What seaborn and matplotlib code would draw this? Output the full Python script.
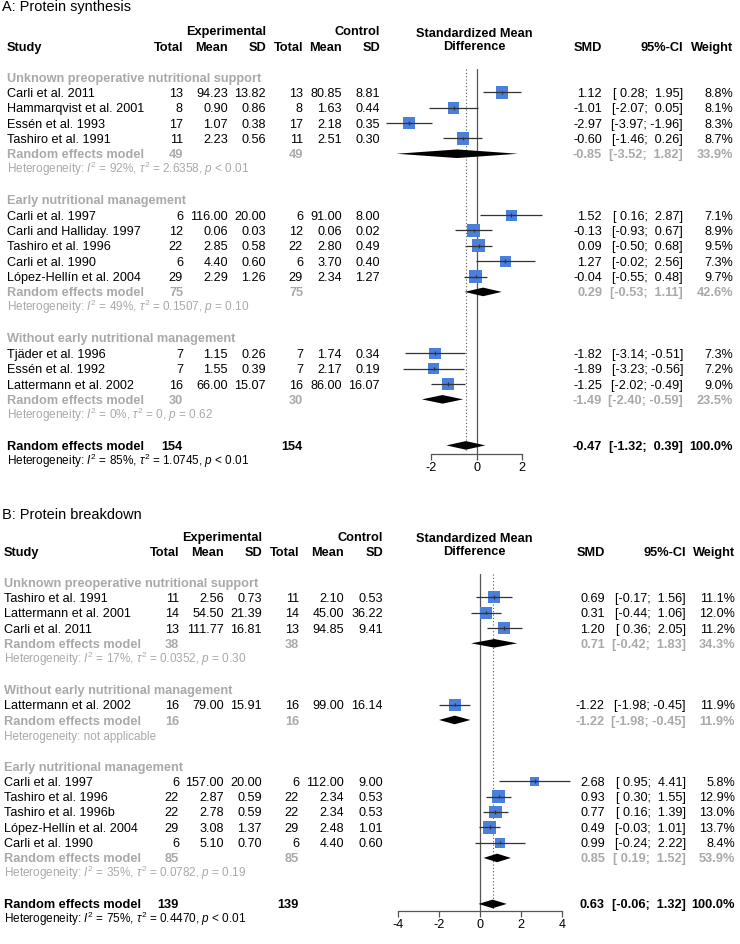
import numpy as np
import pandas as pd
import matplotlib
matplotlib.use("Agg")
import matplotlib.pyplot as plt
import seaborn as sns

# ---------------- DATA ----------------
# Panel A: Protein synthesis
A_groups = ["Unknown preoperative nutritional support",
            "Early nutritional management",
            "Without early nutritional management"]
A_group_of = [0, 0, 0, 0, 1, 1, 1, 1, 1, 2, 2, 2]
A_study = ["Carli et al. 2011", "Hammarqvist et al. 2001", "Essén et al. 1993", "Tashiro et al. 1991",
           "Carli et al. 1997", "Carli and Halliday. 1997", "Tashiro et al. 1996", "Carli et al. 1990",
           "López-Hellín et al. 2004",
           "Tjäder et al. 1996", "Essén et al. 1992", "Lattermann et al. 2002"]
A_exp_n = [13, 8, 17, 11, 6, 12, 22, 6, 29, 7, 7, 16]
A_exp_mean = [94.23, 0.90, 1.07, 2.23, 116.00, 0.06, 2.85, 4.40, 2.29, 1.15, 1.55, 66.00]
A_exp_sd = [13.82, 0.86, 0.38, 0.56, 20.00, 0.03, 0.58, 0.60, 1.26, 0.26, 0.39, 15.07]
A_ctl_n = [13, 8, 17, 11, 6, 12, 22, 6, 29, 7, 7, 16]
A_ctl_mean = [80.85, 1.63, 2.18, 2.51, 91.00, 0.06, 2.80, 3.70, 2.34, 1.74, 2.17, 86.00]
A_ctl_sd = [8.81, 0.44, 0.35, 0.30, 8.00, 0.02, 0.49, 0.40, 1.27, 0.34, 0.19, 16.07]
A_smd = [1.12, -1.01, -2.97, -0.60, 1.52, -0.13, 0.09, 1.27, -0.04, -1.82, -1.89, -1.25]
A_lo = [0.28, -2.07, -3.97, -1.46, 0.16, -0.93, -0.50, -0.02, -0.55, -3.14, -3.23, -2.02]
A_hi = [1.95, 0.05, -1.96, 0.26, 2.87, 0.67, 0.68, 2.56, 0.48, -0.51, -0.56, -0.49]
A_wt = [8.8, 8.1, 8.3, 8.7, 7.1, 8.9, 9.5, 7.3, 9.7, 7.3, 7.2, 9.0]
A_sub_n = [49, 75, 30]
A_sub_smd = [-0.85, 0.29, -1.49]
A_sub_lo = [-3.52, -0.53, -2.40]
A_sub_hi = [1.82, 1.11, -0.59]
A_sub_wt = [33.9, 42.6, 23.5]
A_sub_i2 = ["92%", "49%", "0%"]
A_sub_tau2 = ["2.6358", "0.1507", "0"]
A_sub_p = ["< 0.01", "= 0.10", "= 0.62"]
A_tot_n = 154
A_tot_smd, A_tot_lo, A_tot_hi = -0.47, -1.32, 0.39
A_tot_i2, A_tot_tau2, A_tot_p = "85%", "1.0745", "< 0.01"
A_ticks = [-2, 0, 2]

# Panel B: Protein breakdown
B_groups = ["Unknown preoperative nutritional support",
            "Without early nutritional management",
            "Early nutritional management"]
B_group_of = [0, 0, 0, 1, 2, 2, 2, 2, 2]
B_study = ["Tashiro et al. 1991", "Lattermann et al. 2001", "Carli et al. 2011",
           "Lattermann et al. 2002",
           "Carli et al. 1997", "Tashiro et al. 1996", "Tashiro et al. 1996b",
           "López-Hellín et al. 2004", "Carli et al. 1990"]
B_exp_n = [11, 14, 13, 16, 6, 22, 22, 29, 6]
B_exp_mean = [2.56, 54.50, 111.77, 79.00, 157.00, 2.87, 2.78, 3.08, 5.10]
B_exp_sd = [0.73, 21.39, 16.81, 15.91, 20.00, 0.59, 0.59, 1.37, 0.70]
B_ctl_n = [11, 14, 13, 16, 6, 22, 22, 29, 6]
B_ctl_mean = [2.10, 45.00, 94.85, 99.00, 112.00, 2.34, 2.34, 2.48, 4.40]
B_ctl_sd = [0.53, 36.22, 9.41, 16.14, 9.00, 0.53, 0.53, 1.01, 0.60]
B_smd = [0.69, 0.31, 1.20, -1.22, 2.68, 0.93, 0.77, 0.49, 0.99]
B_lo = [-0.17, -0.44, 0.36, -1.98, 0.95, 0.30, 0.16, -0.03, -0.24]
B_hi = [1.56, 1.06, 2.05, -0.45, 4.41, 1.55, 1.39, 1.01, 2.22]
B_wt = [11.1, 12.0, 11.2, 11.9, 5.8, 12.9, 13.0, 13.7, 8.4]
B_sub_n = [38, 16, 85]
B_sub_smd = [0.71, -1.22, 0.85]
B_sub_lo = [-0.42, -1.98, 0.19]
B_sub_hi = [1.83, -0.45, 1.52]
B_sub_wt = [34.3, 11.9, 53.9]
B_sub_i2 = ["17%", None, "35%"]
B_sub_tau2 = ["0.0352", None, "0.0782"]
B_sub_p = ["= 0.30", None, "= 0.19"]
B_tot_n = 139
B_tot_smd, B_tot_lo, B_tot_hi = 0.63, -0.06, 1.32
B_tot_i2, B_tot_tau2, B_tot_p = "75%", "0.4470", "< 0.01"
B_ticks = [-4, -2, 0, 2, 4]

# ---------------- STYLE ----------------
sns.set_theme(style="white")
plt.rcParams['font.family'] = ['Liberation Sans', 'DejaVu Sans']
plt.rcParams['mathtext.fontset'] = 'custom'
plt.rcParams['mathtext.rm'] = 'Liberation Sans'
plt.rcParams['mathtext.it'] = 'Liberation Sans:italic'
plt.rcParams['mathtext.bf'] = 'Liberation Sans:bold'
plt.rcParams['axes.unicode_minus'] = False

W, H = 740, 944
fig = plt.figure(figsize=(W / 100, H / 100), dpi=100)
fig.patch.set_facecolor('white')

GREY = '#a9a9a9'
BLUE = '#4a7fdc'
LINE = '#333333'
AXC = '#555555'


def het(i2, tau2, p):
    if i2 is None:
        return "Heterogeneity: not applicable"
    return ("Heterogeneity: $I^2$ = " + i2 + ", $\\tau^2$ = " + tau2 +
            ", $p$ " + p)


# calibrate font sizes against widths measured in the reference (pixels)
fig.canvas.draw()
_rend = fig.canvas.get_renderer()


def _w(s, size, weight):
    t = fig.text(0, 0, s, fontsize=size, fontweight=weight)
    bb = t.get_window_extent(renderer=_rend)
    t.remove()
    return bb.width


FS = 9.15 * 137.0 / _w("Hammarqvist et al. 2001", 9.15, 'normal')
FS_B = 9.15 * 137.0 / _w("Random effects model", 9.15, 'bold')
FS_T = 10.5 * 129.0 / _w("A: Protein synthesis", 10.5, 'normal')
FS_H = 8.55 * 243.0 / _w(het("85%", "1.0745", "< 0.01"), 8.55, 'normal')


def put(x, y, s, ha='left', bold=False, color='black', size=None):
    if size is None:
        size = FS_B if bold else FS
    spx = size * 100 / 72
    fig.text(x / W, 1 - (y + 0.358 * spx) / H, s, ha=ha, va='baseline',
             fontsize=size, fontweight='bold' if bold else 'normal', color=color)


def ci(lo, hi):
    return "[{:5.2f}; {:5.2f}]".format(lo, hi)


def panel(title, L, groups, group_of, study, en, em, es, cn, cm, cs, smd, lo, hi, wt,
          sub_n, sub_smd, sub_lo, sub_hi, sub_wt, sub_i2, sub_tau2, sub_p,
          tot_n, tot_smd, tot_lo, tot_hi, tot_i2, tot_tau2, tot_p, ticks):
    r0, dy = L['row0'], L['dy']

    def ry(r):
        return r0 + dy * r

    c = L['cols']
    put(2.5, L['title_y'], title, size=FS_T)
    put(c[2], ry(-3), "Experimental", ha='right', bold=True)
    put(c[5], ry(-3), "Control", ha='right', bold=True)
    put(L['study_x'], ry(-2), "Study", bold=True)
    for x, s in zip(c, ["Total", "Mean", "SD", "Total", "Mean", "SD"]):
        put(x, ry(-2), s, ha='right', bold=True)
    put(L['hdr_cx'], r0 - 45, "Standardized Mean", ha='center', bold=True)
    put(L['hdr_cx'], r0 - 31.5, "Difference", ha='center', bold=True)
    put(L['smd_x'], ry(-2), "SMD", ha='right', bold=True)
    put(L['ci_x'], ry(-2), "95%-CI", ha='right', bold=True)
    put(L['w_x'], ry(-2), "Weight", ha='right', bold=True)

    rows = []
    r = 0
    sub_rows = []
    for g, gname in enumerate(groups):
        put(L['study_x'], ry(r), gname, bold=True, color=GREY)
        idx = [i for i, gg in enumerate(group_of) if gg == g]
        for k, i in enumerate(idx):
            rr = r + 1 + k
            rows.append(rr)
            put(L['study_x'], ry(rr), study[i])
            vals = [str(en[i]), f"{em[i]:.2f}", f"{es[i]:.2f}",
                    str(cn[i]), f"{cm[i]:.2f}", f"{cs[i]:.2f}"]
            for x, s in zip(c, vals):
                put(x, ry(rr), s, ha='right')
            put(L['smd_x'], ry(rr), f"{smd[i]:.2f}", ha='right')
            put(L['ci_x'], ry(rr), ci(lo[i], hi[i]), ha='right')
            put(L['w_x'], ry(rr), f"{wt[i]:.1f}%", ha='right')
        rr = r + 1 + len(idx)
        sub_rows.append(rr)
        put(L['study_x'], ry(rr), "Random effects model", bold=True, color=GREY)
        put(c[0], ry(rr), str(sub_n[g]), ha='right', bold=True, color=GREY)
        put(c[3], ry(rr), str(sub_n[g]), ha='right', bold=True, color=GREY)
        put(L['smd_x'], ry(rr), f"{sub_smd[g]:.2f}", ha='right', bold=True, color=GREY)
        put(L['ci_x'], ry(rr), ci(sub_lo[g], sub_hi[g]), ha='right', bold=True, color=GREY)
        put(L['w_x'], ry(rr), f"{sub_wt[g]:.1f}%", ha='right', bold=True, color=GREY)
        put(L['study_x'], ry(rr + 1), het(sub_i2[g], sub_tau2[g], sub_p[g]),
            color=GREY, size=FS_H)
        r = rr + 3
    tot_row = r
    put(L['study_x'], ry(r), "Random effects model", bold=True)
    put(c[0], ry(r), str(tot_n), ha='right', bold=True)
    put(c[3], ry(r), str(tot_n), ha='right', bold=True)
    put(L['smd_x'], ry(r), f"{tot_smd:.2f}", ha='right', bold=True)
    put(L['ci_x'], ry(r), ci(tot_lo, tot_hi), ha='right', bold=True)
    put(L['w_x'], ry(r), "100.0%", ha='right', bold=True)
    put(L['study_x'], ry(r + 1), het(tot_i2, tot_tau2, tot_p), size=FS_H)

    # ---- forest axes ----
    x0, x1 = L['ax_px']
    yt, yb = L['ax_top'], L['ax_bot']
    ax = fig.add_axes([x0 / W, 1 - yb / H, (x1 - x0) / W, (yb - yt) / H])
    ax.set_facecolor('none')
    rt = (yt - r0) / dy
    rb = (yb - r0) / dy

    wmax = max(wt)
    side_px = [13.0 * np.sqrt(w / wmax) for w in wt]
    df = pd.DataFrame({'smd': smd, 'lo': lo, 'hi': hi, 'row': rows,
                       's': [(sp * 0.72) ** 2 for sp in side_px]})
    sns.scatterplot(data=df, x='smd', y='row', marker='s', s=df['s'].values,
                    color=BLUE, edgecolor='none', linewidth=0, legend=False,
                    ax=ax, zorder=3, clip_on=False)
    ax.hlines(df['row'], df['lo'], df['hi'], color=LINE, lw=0.9, zorder=4, clip_on=False)
    ax.vlines(df['smd'], df['row'] - 0.12, df['row'] + 0.12, color=LINE, lw=0.9,
              zorder=4, clip_on=False)
    h = 0.28
    for g in range(len(groups)):
        rr = sub_rows[g]
        ax.fill([sub_lo[g], sub_smd[g], sub_hi[g], sub_smd[g]],
                [rr, rr - h, rr, rr + h], color='black', lw=0, zorder=5, clip_on=False)
    ax.fill([tot_lo, tot_smd, tot_hi, tot_smd],
            [tot_row, tot_row - h, tot_row, tot_row + h], color='black', lw=0,
            zorder=5, clip_on=False)
    ax.axvline(0, color=AXC, lw=0.9, zorder=1)
    ax.vlines([tot_smd], rt, tot_row + 0.3, color=AXC, lw=0.8,
              linestyles=(0, (1, 2)), zorder=1)

    ax.set_xlim(ticks[0], ticks[-1])
    ax.set_ylim(rb, rt)
    ax.set_xlabel('')
    ax.set_ylabel('')
    ax.set_xticks(ticks)
    ax.set_xticklabels([str(t) for t in ticks])
    ax.set_yticks([])
    for s in ['left', 'top', 'right']:
        ax.spines[s].set_visible(False)
    ax.spines['bottom'].set_color(AXC)
    ax.spines['bottom'].set_linewidth(0.9)
    ax.tick_params(axis='x', bottom=True, direction='out', length=4.3, width=0.9,
                   color=AXC, labelsize=FS, labelcolor='black', pad=1.5)
    ax.grid(False)


panel("A: Protein synthesis",
      dict(row0=77.0, dy=15.35, title_y=6.1, study_x=7,
           cols=[183, 228, 266, 303, 342, 380], smd_x=602, ci_x=683, w_x=733,
           hdr_cx=474, ax_px=(431.0, 522.0), ax_top=69, ax_bot=454),
      A_groups, A_group_of, A_study, A_exp_n, A_exp_mean, A_exp_sd,
      A_ctl_n, A_ctl_mean, A_ctl_sd, A_smd, A_lo, A_hi, A_wt,
      A_sub_n, A_sub_smd, A_sub_lo, A_sub_hi, A_sub_wt, A_sub_i2, A_sub_tau2, A_sub_p,
      A_tot_n, A_tot_smd, A_tot_lo, A_tot_hi, A_tot_i2, A_tot_tau2, A_tot_p, A_ticks)

panel("B: Protein breakdown",
      dict(row0=582.0, dy=15.33, title_y=514.1, study_x=4,
           cols=[179, 224, 262, 299, 344, 383], smd_x=605, ci_x=686, w_x=735,
           hdr_cx=474, ax_px=(397.7, 561.7), ax_top=574, ax_bot=911),
      B_groups, B_group_of, B_study, B_exp_n, B_exp_mean, B_exp_sd,
      B_ctl_n, B_ctl_mean, B_ctl_sd, B_smd, B_lo, B_hi, B_wt,
      B_sub_n, B_sub_smd, B_sub_lo, B_sub_hi, B_sub_wt, B_sub_i2, B_sub_tau2, B_sub_p,
      B_tot_n, B_tot_smd, B_tot_lo, B_tot_hi, B_tot_i2, B_tot_tau2, B_tot_p, B_ticks)

fig.savefig("out.png", dpi=100, facecolor='white')
